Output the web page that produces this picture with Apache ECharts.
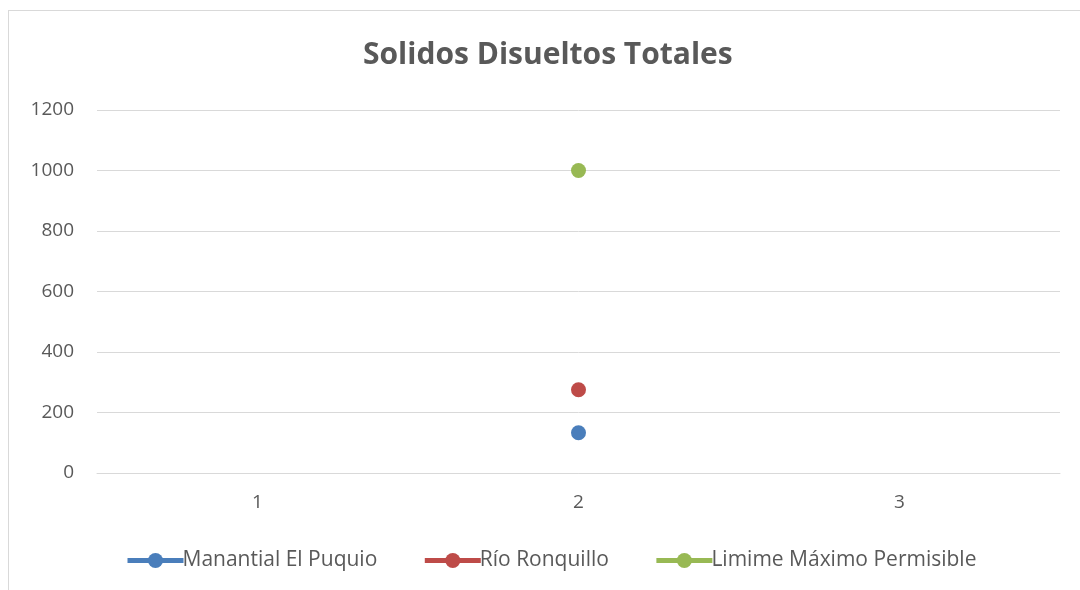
<!DOCTYPE html>
<html><head><meta charset="utf-8">
<script src="https://cdn.jsdelivr.net/npm/echarts@6/dist/echarts.min.js"></script>
<style>
html,body{margin:0;padding:0;background:#fff;overflow:hidden}
#frame{position:absolute;left:8px;top:10px;width:1090px;height:600px;border:1px solid #d9d9d9;box-sizing:border-box}
#c{position:absolute;left:0;top:0;width:1080px;height:590px}
</style></head>
<body><div id="frame"></div><div id="c"></div>
<script>
const categories = ['1', '2', '3'];
const manantial = ['-', 133, '-'];
const rio = ['-', 275, '-'];
const limite = ['-', 1000, '-'];
const seriesNames = ['Manantial El Puquio', 'Río Ronquillo', 'Limime Máximo Permisible'];
const colors = ['#4a7ebb', '#be4b48', '#98b954'];

const chart = echarts.init(document.getElementById('c'), null, {renderer: 'canvas'});
const font = "'Open Sans', 'Liberation Sans', sans-serif";
function mk(name, data, color) {
  return {
    name, type: 'line', data, color,
    symbol: 'circle', symbolSize: 15,
    lineStyle: {width: 4.5, color},
    itemStyle: {color},
    connectNulls: false
  };
}
chart.setOption({
  animation: false,
  title: {
    text: 'Solidos Disueltos Totales', left: 358, top: 35,
    textStyle: {fontFamily: font, fontSize: 30, fontWeight: 'bold', color: '#595959'}
  },
  grid: {left: 97, right: 20, top: 110, bottom: 117},
  xAxis: {
    type: 'category', data: categories,
    axisLine: {lineStyle: {color: '#d9d9d9', width: 1}},
    axisTick: {show: false},
    axisLabel: {fontFamily: font, fontSize: 19, color: '#595959', margin: 20}
  },
  yAxis: {
    type: 'value', min: 0, max: 1200, interval: 200,
    axisLine: {show: false}, axisTick: {show: false},
    splitLine: {lineStyle: {color: '#d9d9d9', width: 1}},
    axisLabel: {fontFamily: font, fontSize: 19, color: '#595959', margin: 23,
      formatter: v => String(v)}
  },
  legend: {
    bottom: 14, left: 120, itemGap: 45,
    itemWidth: 56, itemHeight: 19,
    lineStyle: {width: 5},
    textStyle: {fontFamily: font, fontSize: 21, color: '#595959', padding: [0,0,0,-6]},
    data: seriesNames
  },
  series: [
    mk(seriesNames[0], manantial, colors[0]),
    mk(seriesNames[1], rio, colors[1]),
    mk(seriesNames[2], limite, colors[2])
  ]
});
</script></body></html>
